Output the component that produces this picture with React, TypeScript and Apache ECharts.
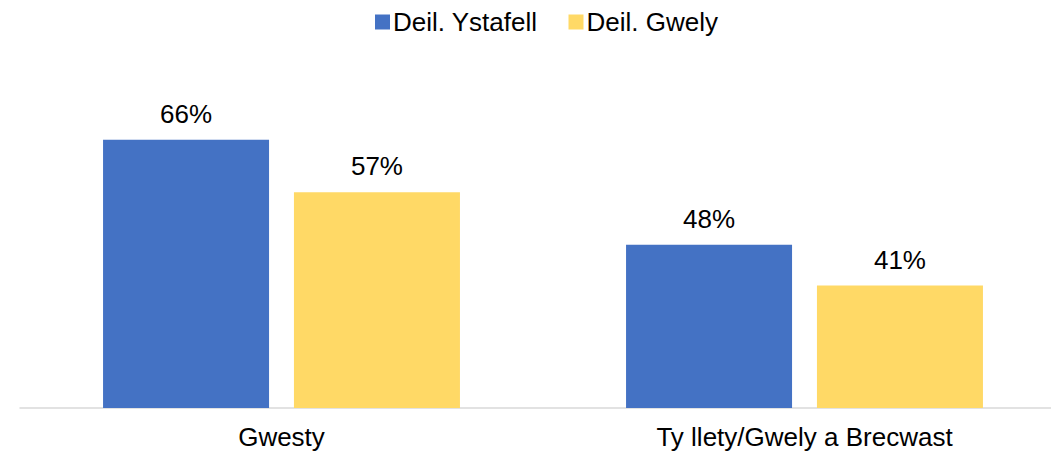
import React, { useEffect, useRef } from "react";
import * as echarts from "echarts";

const categories = ["Gwesty", "Ty llety/Gwely a Brecwast"];
const seriesNames = ["Deil. Ystafell", "Deil. Gwely"];
const roomOccupancy = [66, 48];
const bedOccupancy = [57, 41];
const colors = ["#4472C4", "#FFD966"];

export default function App() {
  const ref = useRef<HTMLDivElement>(null);
  useEffect(() => {
    document.body.style.margin = "0";
    const chart = echarts.init(ref.current!, null, { renderer: "svg" });
    const font = "'Liberation Sans', Arial, sans-serif";
    const label = {
      show: true,
      position: "top",
      distance: 13,
      color: "#000",
      fontSize: 26,
      fontFamily: font,
      formatter: (p: any) => p.value + "%",
    };
    chart.setOption({
      animation: false,
      legend: {
        left: 370,
        top: 4,
        itemWidth: 15,
        itemHeight: 15,
        itemGap: 31,
        icon: "rect",
        textStyle: { fontSize: 26, fontFamily: font, color: "#000", padding: [0, 0, 0, -2] },
        data: seriesNames,
      },
      grid: { left: 20, top: 58, right: -15, height: 350, outerBoundsMode: "none", containLabel: false },
      xAxis: {
        type: "category",
        data: categories,
        axisLine: { lineStyle: { color: "#D9D9D9", width: 1.5 } },
        axisTick: { show: false },
        axisLabel: { fontSize: 26, fontFamily: font, color: "#000", margin: 16 },
      },
      yAxis: {
        type: "value",
        min: 20,
        max: 80,
        show: false,
        splitLine: { show: false },
      },
      series: [
        {
          name: seriesNames[0],
          type: "bar",
          data: roomOccupancy,
          itemStyle: { color: colors[0] },
          barWidth: 166,
          barGap: "15%",
          label,
        },
        {
          name: seriesNames[1],
          type: "bar",
          data: bedOccupancy,
          itemStyle: { color: colors[1] },
          barWidth: 166,
          barGap: "15%",
          label,
        },
      ],
    });
    return () => chart.dispose();
  }, []);
  return <div ref={ref} style={{ width: 1051, height: 453 }} />;
}
